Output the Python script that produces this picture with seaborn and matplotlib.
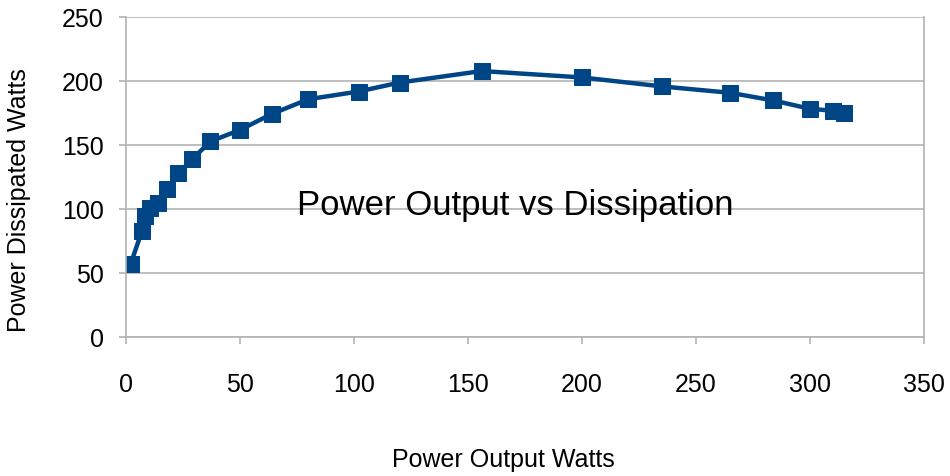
import matplotlib
matplotlib.use("Agg")
import matplotlib.pyplot as plt
import seaborn as sns
import pandas as pd

power_output = [2, 7, 8.5, 10.5, 14, 18, 23, 29, 37, 50, 64, 80, 102, 120, 156, 200, 235, 265, 284, 300, 310, 315]
power_dissipated = [57, 83, 95, 101, 105, 116, 128, 139, 153, 162, 174.5, 186, 192, 199, 208, 203, 196, 191, 185, 178.5, 177, 175]
x_ticks = [0, 50, 100, 150, 200, 250, 300, 350]
y_ticks = [0, 50, 100, 150, 200, 250]

df = pd.DataFrame({"out": power_output, "diss": power_dissipated})

sns.set_theme(style="white")
plt.rcParams["font.family"] = ["Liberation Sans", "DejaVu Sans"]
plt.rcParams["text.color"] = "black"

fig = plt.figure(figsize=(9.5, 4.76), dpi=100)
ax = fig.add_axes([0.1326, 0.2914, 0.84, 0.6723])

color = "#004586"
sns.lineplot(data=df, x="out", y="diss", ax=ax, color=color, linewidth=3.2,
             marker="s", markersize=12, markeredgecolor=color, markerfacecolor=color,
             sort=False)

ax.set_xlim(0, 350)
ax.set_ylim(0, 250)
ax.set_xticks(x_ticks)
ax.set_yticks(y_ticks)
ax.yaxis.grid(True, color="#b3b3b3", linewidth=1.2)
ax.xaxis.grid(False)
for s in ax.spines.values():
    s.set_color("#b3b3b3")
    s.set_linewidth(1.2)
ax.spines["top"].set_visible(False)
ax.tick_params(axis="both", which="both", direction="out", length=5, width=1.2,
               color="#b3b3b3", labelsize=18, labelcolor="black",
               bottom=True, left=True)
ax.tick_params(axis="y", pad=11)
ax.tick_params(axis="x", pad=21)

ax.set_xlabel("")
ax.set_ylabel("")
fig.text(0.53, 0.019, "Power Output Watts", ha="center", va="baseline", fontsize=18, color="black")
fig.text(0.02, 0.58, "Power Dissipated Watts", ha="center", va="center", rotation=90, fontsize=18, color="black")
fig.text(0.542, 0.549, "Power Output vs Dissipation", ha="center", va="baseline", fontsize=25, color="black")

fig.savefig("out.png", dpi=100)
